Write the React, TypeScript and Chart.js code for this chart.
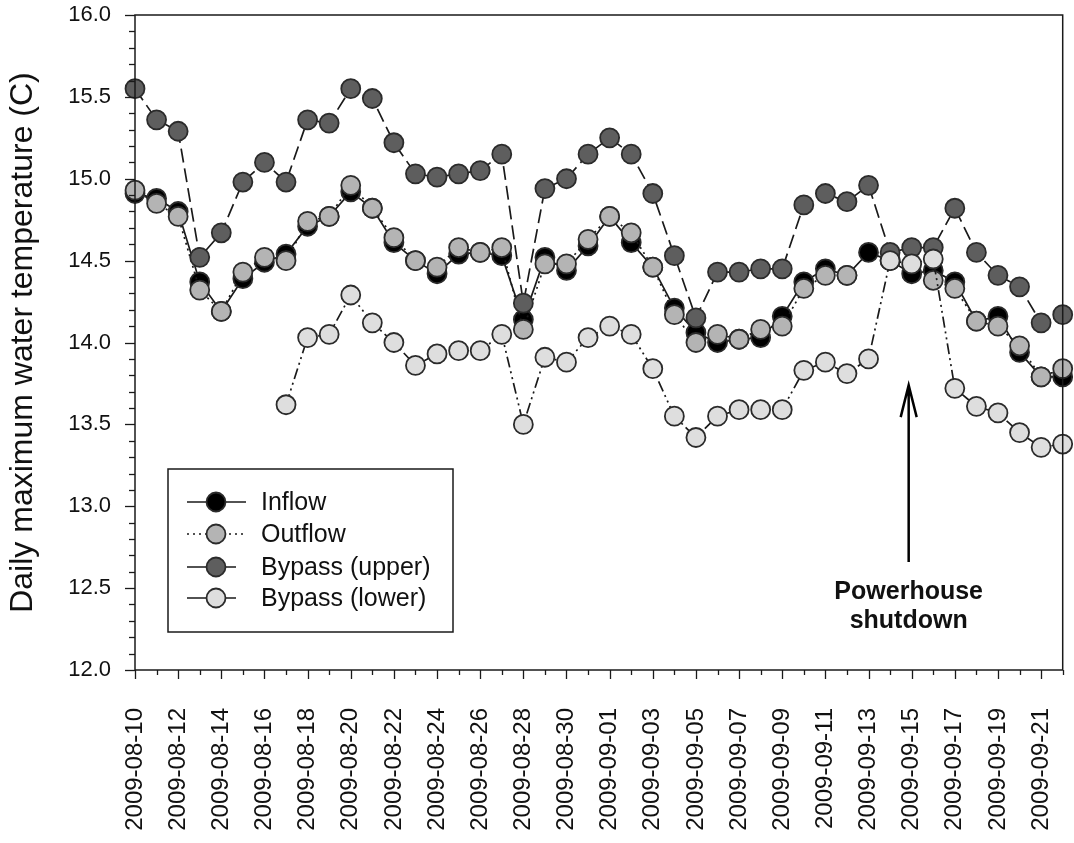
import React, { useEffect, useRef } from "react";
import { Chart, registerables } from "chart.js";

Chart.register(...registerables);

const dates = [
  "2009-08-10", "2009-08-11", "2009-08-12", "2009-08-13", "2009-08-14", "2009-08-15",
  "2009-08-16", "2009-08-17", "2009-08-18", "2009-08-19", "2009-08-20", "2009-08-21",
  "2009-08-22", "2009-08-23", "2009-08-24", "2009-08-25", "2009-08-26", "2009-08-27",
  "2009-08-28", "2009-08-29", "2009-08-30", "2009-08-31", "2009-09-01", "2009-09-02",
  "2009-09-03", "2009-09-04", "2009-09-05", "2009-09-06", "2009-09-07", "2009-09-08",
  "2009-09-09", "2009-09-10", "2009-09-11", "2009-09-12", "2009-09-13", "2009-09-14",
  "2009-09-15", "2009-09-16", "2009-09-17", "2009-09-18", "2009-09-19", "2009-09-20",
  "2009-09-21", "2009-09-22",
];

const inflow = [
  14.91, 14.88, 14.80, 14.37, 14.19, 14.39, 14.49, 14.54, 14.71, 14.77, 14.92, 14.82,
  14.61, 14.50, 14.42, 14.54, 14.55, 14.53, 14.14, 14.52, 14.44, 14.59, 14.77, 14.61,
  14.46, 14.21, 14.06, 14.00, 14.02, 14.03, 14.16, 14.37, 14.45, 14.41, 14.55, 14.50,
  14.42, 14.44, 14.37, 14.13, 14.16, 13.94, 13.79, 13.79,
];

const outflow = [
  14.93, 14.85, 14.77, 14.32, 14.19, 14.43, 14.52, 14.50, 14.74, 14.77, 14.96, 14.82,
  14.64, 14.50, 14.46, 14.58, 14.55, 14.58, 14.08, 14.48, 14.48, 14.63, 14.77, 14.67,
  14.46, 14.17, 14.00, 14.05, 14.02, 14.08, 14.10, 14.33, 14.41, 14.41, null, null,
  null, 14.38, 14.33, 14.13, 14.10, 13.98, 13.79, 13.84,
];

const bypassUpper = [
  15.55, 15.36, 15.29, 14.52, 14.67, 14.98, 15.10, 14.98, 15.36, 15.34, 15.55, 15.49,
  15.22, 15.03, 15.01, 15.03, 15.05, 15.15, 14.24, 14.94, 15.00, 15.15, 15.25, 15.15,
  14.91, 14.53, 14.15, 14.43, 14.43, 14.45, 14.45, 14.84, 14.91, 14.86, 14.96, 14.55,
  14.58, 14.58, 14.82, 14.55, 14.41, 14.34, 14.12, 14.17,
];

const bypassLower = [
  null, null, null, null, null, null, null, 13.62, 14.03, 14.05, 14.29, 14.12,
  14.00, 13.86, 13.93, 13.95, 13.95, 14.05, 13.50, 13.91, 13.88, 14.03, 14.10, 14.05,
  13.84, 13.55, 13.42, 13.55, 13.59, 13.59, 13.59, 13.83, 13.88, 13.81, 13.90, 14.50,
  14.48, 14.51, 13.72, 13.61, 13.57, 13.45, 13.36, 13.38,
];

const seriesNames = ["Inflow", "Outflow", "Bypass (upper)", "Bypass (lower)"];
const yTitle = "Daily maximum water temperature (C)";
const annotationLines = ["Powerhouse", "shutdown"];
const annotationDate = "2009-09-15";

const FONT = "'Liberation Sans', Arial, Helvetica, sans-serif";
const fills = ["#000000", "#b4b4b4", "#5e5e5e", "#dedede"];
const dashes: number[][] = [[], [2, 4], [14, 6], [11, 4, 2, 4, 2, 4]];

const extrasPlugin = {
  id: "extras",
  afterDraw(chart: any) {
    const ctx = chart.ctx as CanvasRenderingContext2D;
    const ca = chart.chartArea;
    const xs = chart.scales.x;
    const ys = chart.scales.y;
    ctx.save();
    // frame
    ctx.strokeStyle = "#1a1a1a";
    ctx.lineWidth = 1.5;
    ctx.strokeRect(ca.left, ca.top, ca.right - ca.left, ca.bottom - ca.top);
    // y ticks
    ctx.lineWidth = 1.3;
    for (let k = 0; k <= 40; k++) {
      const y = Math.round(ys.getPixelForValue(12 + k * 0.1)) + 0.5;
      const len = k % 5 === 0 ? 10 : 6;
      ctx.beginPath();
      ctx.moveTo(ca.left - len, y);
      ctx.lineTo(ca.left, y);
      ctx.stroke();
    }
    // x ticks
    for (let i = 0; i < dates.length; i++) {
      const x = Math.round(xs.getPixelForValue(i)) + 0.5;
      const len = i % 2 === 0 ? 9 : 5;
      ctx.beginPath();
      ctx.moveTo(x, ca.bottom);
      ctx.lineTo(x, ca.bottom + len);
      ctx.stroke();
    }
    // arrow
    const ax = xs.getPixelForValue(dates.indexOf(annotationDate)) - 3;
    const tip = ys.getPixelForValue(13.74);
    const base = ys.getPixelForValue(12.66);
    ctx.strokeStyle = "#000";
    ctx.lineWidth = 2.5;
    ctx.beginPath();
    ctx.moveTo(ax, base);
    ctx.lineTo(ax, tip);
    ctx.moveTo(ax - 8, tip + 32);
    ctx.lineTo(ax, tip);
    ctx.lineTo(ax + 8, tip + 32);
    ctx.stroke();
    ctx.fillStyle = "#111";
    ctx.font = `bold 25px ${FONT}`;
    ctx.textAlign = "center";
    ctx.textBaseline = "middle";
    ctx.fillText(annotationLines[0], ax, ys.getPixelForValue(12.475));
    ctx.fillText(annotationLines[1], ax, ys.getPixelForValue(12.30));

    // legend
    const lx = ca.left + 33;
    const ly = ca.top + 454;
    ctx.lineWidth = 1.5;
    ctx.strokeStyle = "#1a1a1a";
    ctx.strokeRect(lx, ly, 285, 163);
    const rowY = [33, 65, 98, 129];
    ctx.font = `25px ${FONT}`;
    ctx.textAlign = "left";
    for (let r = 0; r < 4; r++) {
      const cy = ly + rowY[r];
      const mx = lx + 48;
      ctx.strokeStyle = "#1a1a1a";
      ctx.lineWidth = 1.6;
      if (r === 0) {
        ctx.beginPath();
        ctx.moveTo(lx + 19, cy);
        ctx.lineTo(lx + 78, cy);
        ctx.stroke();
      } else if (r === 1) {
        ctx.setLineDash([2, 4]);
        ctx.beginPath();
        ctx.moveTo(lx + 19, cy);
        ctx.lineTo(lx + 78, cy);
        ctx.stroke();
        ctx.setLineDash([]);
      } else {
        ctx.beginPath();
        ctx.moveTo(lx + 19, cy);
        ctx.lineTo(lx + 40, cy);
        ctx.moveTo(lx + 56, cy);
        ctx.lineTo(lx + 68, cy);
        ctx.stroke();
      }
      ctx.beginPath();
      ctx.arc(mx, cy, 9.5, 0, Math.PI * 2);
      ctx.fillStyle = fills[r];
      ctx.fill();
      ctx.lineWidth = 1.8;
      ctx.strokeStyle = "#2b2b2b";
      ctx.stroke();
      ctx.fillStyle = "#111";
      ctx.fillText(seriesNames[r], lx + 93, cy + 1);
    }
    ctx.restore();
  },
};

export default function App() {
  const ref = useRef<HTMLCanvasElement | null>(null);
  useEffect(() => {
    if (!ref.current) return;
    const seriesData = [inflow, outflow, bypassUpper, bypassLower];
    const chart = new Chart(ref.current, {
      type: "line",
      data: {
        labels: dates,
        datasets: seriesData.map((d, i) => ({
          label: seriesNames[i],
          data: d,
          order: 4 - i,
          borderColor: "#1a1a1a",
          borderWidth: 1.7,
          borderDash: dashes[i],
          pointRadius: 9.5,
          pointBorderWidth: 1.8,
          pointBorderColor: "#2b2b2b",
          pointBackgroundColor: fills[i],
          spanGaps: i !== 1,
          tension: 0,
          fill: false,
        })),
      },
      options: {
        responsive: false,
        animation: false,
        events: [],
        layout: { padding: { top: 15, right: 9, left: 0, bottom: 0 } },
        plugins: { legend: { display: false }, tooltip: { enabled: false } },
        scales: {
          x: {
            type: "category",
            offset: false,
            grid: { drawOnChartArea: false, tickLength: 10, tickColor: "rgba(0,0,0,0)" },
            border: { display: false },
            ticks: {
              autoSkip: false,
              minRotation: 90,
              maxRotation: 90,
              padding: 28,
              color: "#111",
              font: { size: 24, family: FONT },
              callback: (_v: any, idx: number) => (idx % 2 === 0 ? dates[idx] : ""),
            },
            afterFit: (s: any) => {
              s.height = 173;
              s.paddingLeft = 0;
              s.paddingRight = 0;
            },
          },
          y: {
            type: "linear",
            min: 12,
            max: 16,
            grid: { drawOnChartArea: false, tickLength: 10, tickColor: "rgba(0,0,0,0)" },
            border: { display: false },
            ticks: {
              stepSize: 0.5,
              padding: 14,
              color: "#111",
              font: { size: 22, family: FONT },
              callback: (v: any) => Number(v).toFixed(1),
            },
            title: {
              display: true,
              text: yTitle,
              color: "#111",
              font: { size: 32, family: FONT },
              padding: { top: 4, bottom: 4 },
            },
            afterFit: (s: any) => {
              s.width = 135;
              s.paddingTop = 0;
              s.paddingBottom = 0;
            },
          },
        },
      },
      plugins: [extrasPlugin],
    });
    return () => chart.destroy();
  }, []);
  return (
    <div style={{ position: "fixed", left: 0, top: 0, width: 1074, height: 843, background: "#fff" }}>
      <canvas ref={ref} width={1074} height={843} />
    </div>
  );
}
